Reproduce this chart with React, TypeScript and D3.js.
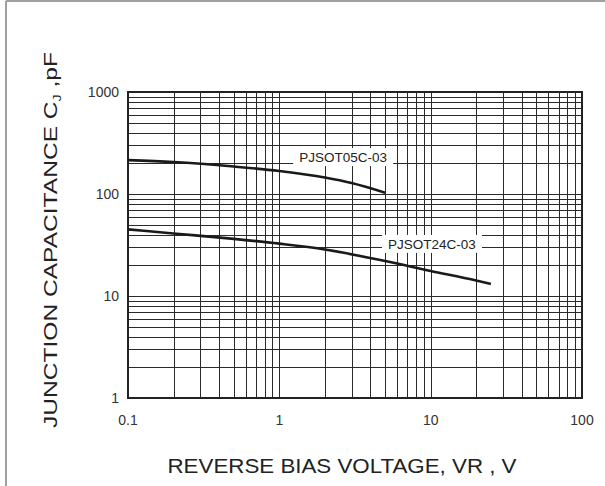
import React, { useEffect, useRef } from 'react';
import * as d3 from 'd3';

// reverse bias voltage (V) vs junction capacitance (pF)
const voltage05 = [0.1, 0.2, 0.5, 1, 2, 3, 5];
const cap05 = [215, 206, 186, 168, 145, 128, 103];
const voltage24 = [0.1, 0.2, 0.5, 1, 2, 5, 10, 20, 25];
const cap24 = [45, 41, 36.3, 32.6, 28.6, 22, 17.6, 14.2, 13.1];

const xTicks = [0.1, 1, 10, 100];
const xTickLabels = ['0.1', '1', '10', '100'];
const yTicks = [1, 10, 100, 1000];
const yTickLabels = ['1', '10', '100', '1000'];

const seriesNames = ['PJSOT05C-03', 'PJSOT24C-03'];

const width = 605;
const height = 486;
const margin = { top: 92, right: 23, bottom: 88, left: 128 };
const font = 'Arial, "Liberation Sans", sans-serif';

const Chart: React.FC = () => {
  const svgRef = useRef<SVGSVGElement>(null);

  useEffect(() => {
    if (!svgRef.current) return;
    const svg = d3.select(svgRef.current);
    svg.selectAll('*').remove();

    svg.append('rect').attr('width', width).attr('height', height).style('fill', 'white');

    // frame edges of the cropped figure
    svg.append('line').attr('x1', 6).attr('x2', width).attr('y1', 1).attr('y2', 1)
      .style('stroke', '#a0a0a0').style('stroke-width', 2);
    svg.append('line').attr('x1', 6).attr('x2', 6).attr('y1', 1).attr('y2', height)
      .style('stroke', '#a0a0a0').style('stroke-width', 2);

    const x = d3.scaleLog().domain([0.1, 100]).range([margin.left, width - margin.right]);
    const y = d3.scaleLog().domain([1, 1000]).range([height - margin.bottom, margin.top]);

    const g = svg.append('g');

    // grid: 1..9 in each decade
    const minorX: number[] = [];
    [0.1, 1, 10].forEach(dec => d3.range(1, 10).forEach(k => minorX.push(dec * k)));
    minorX.push(100);
    const minorY: number[] = [];
    [1, 10, 100].forEach(dec => d3.range(1, 10).forEach(k => minorY.push(dec * k)));
    minorY.push(1000);

    g.selectAll('.vgrid').data(minorX).enter().append('line')
      .attr('x1', d => Math.round(x(d)) + 0.5).attr('x2', d => Math.round(x(d)) + 0.5)
      .attr('y1', y(1)).attr('y2', y(1000))
      .style('stroke', '#2a2a2a').style('stroke-width', 1);
    g.selectAll('.hgrid').data(minorY).enter().append('line')
      .attr('y1', d => Math.round(y(d)) + 0.5).attr('y2', d => Math.round(y(d)) + 0.5)
      .attr('x1', x(0.1)).attr('x2', x(100))
      .style('stroke', '#2a2a2a').style('stroke-width', 1);

    g.append('rect')
      .attr('x', x(0.1)).attr('y', y(1000))
      .attr('width', x(100) - x(0.1)).attr('height', y(1) - y(1000))
      .style('fill', 'none').style('stroke', '#222').style('stroke-width', 2);

    // curves
    const line = d3.line<[number, number]>()
      .x(d => x(d[0]))
      .y(d => y(d[1]))
      .curve(d3.curveMonotoneX);

    [d3.zip(voltage05, cap05), d3.zip(voltage24, cap24)].forEach(pts => {
      g.append('path')
        .attr('d', line(pts as [number, number][]))
        .style('fill', 'none').style('stroke', '#1a1a1a').style('stroke-width', 2.6);
    });

    // curve labels with white background
    const labels = [
      { text: seriesNames[0], v: 2.64, c: 230 },
      { text: seriesNames[1], v: 10.2, c: 32.4 },
    ];
    labels.forEach(l => {
      const cx = x(l.v);
      const cy = y(l.c);
      g.append('rect')
        .attr('x', cx - 50).attr('y', cy - 9).attr('width', 100).attr('height', 18)
        .style('fill', 'white');
      g.append('text')
        .attr('x', cx).attr('y', cy).attr('dy', '0.36em')
        .attr('text-anchor', 'middle')
        .style('font-family', font).style('font-size', '13.5px').style('fill', '#222')
        .text(l.text);
    });

    // tick labels
    g.selectAll('.xt').data(xTicks).enter().append('text')
      .attr('x', d => x(d)).attr('y', 425)
      .attr('text-anchor', 'middle')
      .style('font-family', font).style('font-size', '14px').style('fill', '#333')
      .text((d, i) => xTickLabels[i]);
    g.selectAll('.yt').data(yTicks).enter().append('text')
      .attr('x', 119).attr('y', d => y(d)).attr('dy', '0.36em')
      .attr('text-anchor', 'end')
      .style('font-family', font).style('font-size', '14px').style('fill', '#333')
      .text((d, i) => yTickLabels[i]);

    // axis titles
    svg.append('text')
      .attr('x', 342).attr('y', 473)
      .attr('text-anchor', 'middle')
      .attr('textLength', 349).attr('lengthAdjust', 'spacingAndGlyphs')
      .style('font-family', font).style('font-size', '21px').style('fill', '#222')
      .text('REVERSE BIAS VOLTAGE, VR , V');

    const yt = svg.append('text')
      .attr('transform', 'translate(57,240) rotate(-90)')
      .attr('text-anchor', 'middle')
      .attr('textLength', 376).attr('lengthAdjust', 'spacingAndGlyphs')
      .style('font-family', font).style('font-size', '19px').style('fill', '#222');
    yt.append('tspan').text('JUNCTION CAPACITANCE C');
    yt.append('tspan').attr('dy', 4).style('font-size', '11px').text('J');
    yt.append('tspan').attr('dy', -4).text(' ,pF');
  }, []);

  return <svg ref={svgRef} width={width} height={height} style={{ position: 'absolute', left: 0, top: 0 }} />;
};

export default function App() {
  return (
    <div>
      <Chart />
    </div>
  );
}
